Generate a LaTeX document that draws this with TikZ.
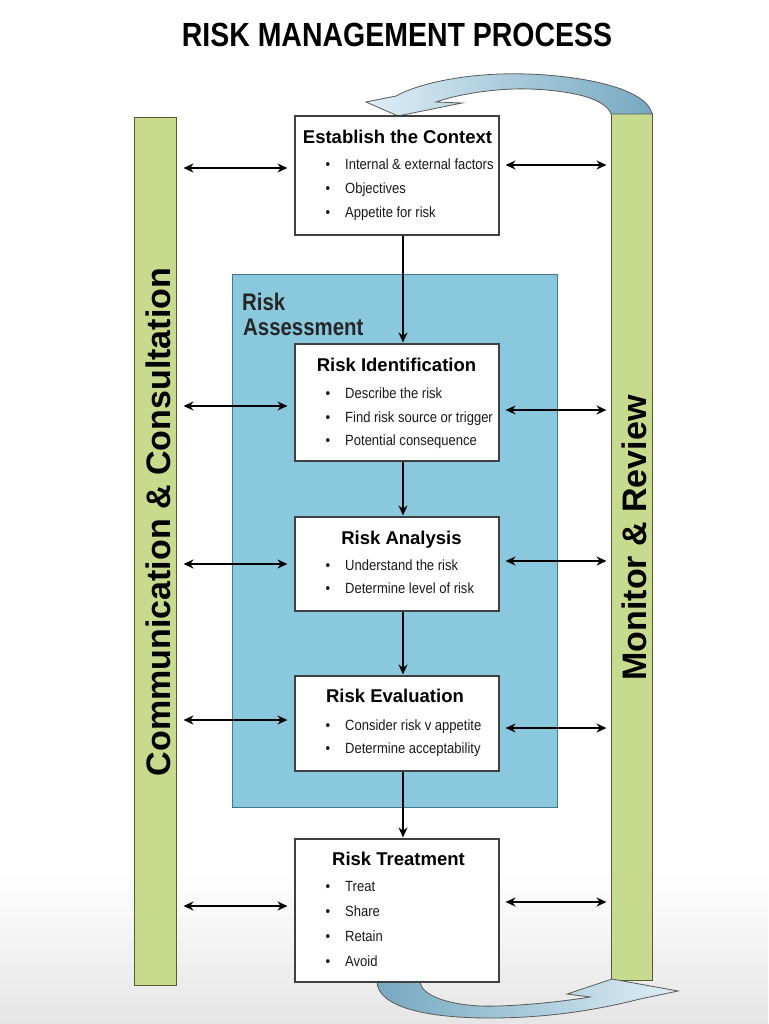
\documentclass[tikz,border=0pt]{standalone}
\usepackage{fontspec}
\setmainfont{Liberation Sans}
\newfontfamily\condfont[FakeStretch=0.85]{Liberation Sans}
\newfontfamily\narrowfont[FakeStretch=0.88]{Liberation Sans}
\usetikzlibrary{arrows.meta,calc}
\definecolor{barfill}{RGB}{200,218,142}
\definecolor{bardraw}{RGB}{80,92,50}
\definecolor{rafill}{RGB}{138,200,222}
\definecolor{radraw}{RGB}{70,120,140}
\definecolor{arrowlight}{RGB}{222,238,246}
\definecolor{arrowdark}{RGB}{118,168,192}
\newcommand\bullist[4]{%
  \foreach \t [count=\i] in {#4} {
    \node[bultext, anchor=base west] (#1-t\i) at (345, {#2+#3*(\i-1)}) {\t};
    \node[bultext, anchor=base] (#1-b\i) at (328, {#2+#3*(\i-1)}) {\textbullet};
  }}
\begin{document}
\begin{tikzpicture}[x=1pt,y=-1pt,
  bar/.style={draw=bardraw, line width=1pt, fill=barfill, inner sep=0pt},
  stepbox/.style={draw=black!75, line width=1.1pt, fill=white, inner sep=0pt},
  headtext/.style={font=\fontsize{18.5}{20}\selectfont\bfseries, inner sep=0pt, anchor=base},
  bultext/.style={font=\narrowfont\fontsize{14.8}{16}\selectfont, inner sep=0pt, text=black!90},
  bartext/.style={font=\fontsize{34}{36}\selectfont\bfseries, rotate=90, inner sep=0pt},
  link/.style={line width=1.6pt, -{Stealth[length=10pt,width=9pt]}},
  dbl/.style={line width=1.5pt, {Stealth[length=10pt,width=9pt]}-{Stealth[length=10pt,width=9pt]}},
  curvearrow/.style={draw=black!65, line width=0.8pt}
]
\useasboundingbox (0,0) rectangle (768,1024);
\fill[white] (0,0) rectangle (768,1024);
\shade[top color=white, bottom color=black!10] (0,870) rectangle (768,1024);

% title
\node[font=\condfont\fontsize{33.5}{36}\selectfont\bfseries, anchor=base, inner sep=0pt] (title) at (397,47) {RISK MANAGEMENT PROCESS};

% side bars
\node[bar, minimum width=42pt, minimum height=867pt] (cc) at (155,551.5) {};
\node[bar, minimum width=41pt, minimum height=866pt] (mr) at (631.5,547) {};
\node[bartext] (cctext) at (158.5,522) {Communication \& Consultation};
\node[bartext] (mrtext) at (634,538) {Monitor \& Review};

% curved arrows
\draw[curvearrow, left color=arrowlight, right color=arrowdark]
  (652,114) .. controls (646,84) and (560,72) .. (500,74)
  .. controls (450,76) and (414,86) .. (396,96)
  -- (366,102) -- (398,116) -- (462,103) -- (436,102)
  .. controls (462,93) and (500,88) .. (530,89)
  .. controls (578,91) and (606,100) .. (611,114) -- cycle;
\draw[curvearrow, left color=arrowdark, right color=arrowlight]
  (377,982) .. controls (378,1005) and (420,1018) .. (490,1018)
  .. controls (560,1018) and (612,1006) .. (640,999)
  -- (678,991) -- (612,979) -- (567,994) -- (590,997)
  .. controls (560,1002) and (510,1007) .. (480,1006)
  .. controls (445,1004) and (422,995) .. (420,982) -- cycle;

% risk assessment area
\node[draw=radraw, line width=0.8pt, fill=rafill, minimum width=325pt, minimum height=533pt, inner sep=0pt] (ra) at (394.5,540.5) {};
\node[font=\condfont\fontsize{24}{26}\selectfont\bfseries, anchor=base west, inner sep=0pt, text=black!85] (ralabel1) at (242,310) {Risk};
\node[font=\condfont\fontsize{24}{26}\selectfont\bfseries, anchor=base west, inner sep=0pt, text=black!85] (ralabel2) at (243,335) {Assessment};

% step boxes
\node[stepbox, minimum width=204pt, minimum height=119pt] (ctx) at (397,175.5) {};
\node[stepbox, minimum width=204pt, minimum height=117pt] (rid) at (397,402.5) {};
\node[stepbox, minimum width=204pt, minimum height=94pt] (ran) at (397,564) {};
\node[stepbox, minimum width=204pt, minimum height=95pt] (rev) at (397,723.5) {};
\node[stepbox, minimum width=204pt, minimum height=143pt] (rtr) at (397,910.5) {};

\node[headtext] (ctxh) at (397.5,144) {Establish the Context};
\node[headtext] (ridh) at (396.5,371.5) {Risk Identification};
\node[headtext] (ranh) at (401.5,544.5) {Risk Analysis};
\node[headtext] (revh) at (395,702.5) {Risk Evaluation};
\node[headtext] (rtrh) at (398.5,865) {Risk Treatment};

\bullist{ctx}{169.3}{24}{Internal \& external factors, Objectives, Appetite for risk}
\bullist{rid}{398.3}{23.8}{Describe the risk, Find risk source or trigger, Potential consequence}
\bullist{ran}{570}{23.5}{Understand the risk, Determine level of risk}
\bullist{rev}{730}{23.5}{Consider risk v appetite, Determine acceptability}
\bullist{rtr}{891.7}{24.8}{Treat, Share, Retain, Avoid}

% vertical flow
\draw[link] ($(ctx.south)+(6,0)$) -- ($(rid.north)+(6,-1)$);
\draw[link] ($(rid.south)+(6,0)$) -- ($(ran.north)+(6,-1)$);
\draw[link] ($(ran.south)+(6,0)$) -- ($(rev.north)+(6,-1)$);
\draw[link] ($(rev.south)+(6,0)$) -- ($(rtr.north)+(6,-1)$);

% horizontal links
\draw[dbl, shorten <=7pt, shorten >=7pt] (cc.east |- 0,168) -- (ctx.west |- 0,168);
\draw[dbl, shorten <=6pt, shorten >=4pt] (ctx.east |- 0,165) -- (mr.west |- 0,165);
\draw[dbl, shorten <=7pt, shorten >=7pt] (cc.east |- 0,406) -- (rid.west |- 0,406);
\draw[dbl, shorten <=6pt, shorten >=4pt] (rid.east |- 0,410) -- (mr.west |- 0,410);
\draw[dbl, shorten <=7pt, shorten >=7pt] (cc.east |- 0,564) -- (ran.west |- 0,564);
\draw[dbl, shorten <=6pt, shorten >=4pt] (ran.east |- 0,561) -- (mr.west |- 0,561);
\draw[dbl, shorten <=7pt, shorten >=7pt] (cc.east |- 0,720) -- (rev.west |- 0,720);
\draw[dbl, shorten <=6pt, shorten >=4pt] (rev.east |- 0,728) -- (mr.west |- 0,728);
\draw[dbl, shorten <=7pt, shorten >=7pt] (cc.east |- 0,906) -- (rtr.west |- 0,906);
\draw[dbl, shorten <=6pt, shorten >=4pt] (rtr.east |- 0,902) -- (mr.west |- 0,902);
\end{tikzpicture}
\end{document}
